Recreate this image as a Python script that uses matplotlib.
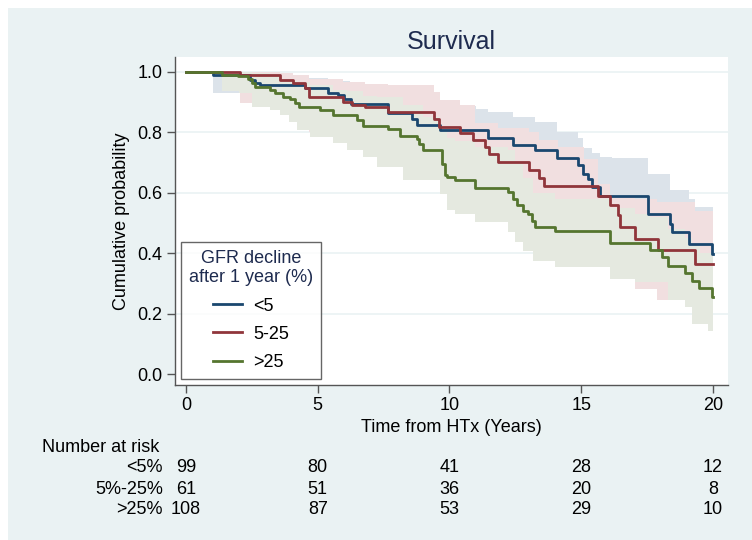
import matplotlib
matplotlib.use("Agg")
import matplotlib.pyplot as plt
from matplotlib.patches import Rectangle
from matplotlib.lines import Line2D
import matplotlib.transforms as mtransforms

plt.rcParams['font.family'] = ['Liberation Sans', 'DejaVu Sans']

# Kaplan-Meier steps (time in years, survival after the step)
blue_t = [0, 1.04, 2.43, 2.62, 2.81, 4.52, 5.40, 5.78, 6.0, 6.25, 7.68, 8.57, 8.75, 9.64,
          11.47, 12.42, 13.25, 14.07, 14.89, 15.08, 15.27, 15.40, 15.71, 17.55, 18.37,
          18.45, 19.10, 19.95]
blue_s = [1.0, 0.99, 0.972, 0.962, 0.956, 0.945, 0.930, 0.922, 0.91, 0.893, 0.862, 0.842,
          0.825, 0.807, 0.782, 0.759, 0.740, 0.713, 0.691, 0.663, 0.646, 0.619, 0.588,
          0.530, 0.497, 0.470, 0.431, 0.398]

red_t = [0, 2.05, 3.57, 4.07, 4.52, 4.65, 5.97, 6.29, 6.79, 7.68, 9.40, 9.62, 10.40, 10.90,
         11.35, 11.50, 11.86, 13.00, 13.38, 13.57, 15.65, 16.09, 16.38, 16.48, 17.04, 17.90,
         19.32]
red_s = [1.0, 0.99, 0.972, 0.961, 0.945, 0.917, 0.900, 0.890, 0.884, 0.865, 0.842, 0.818,
         0.796, 0.774, 0.752, 0.727, 0.700, 0.674, 0.647, 0.621, 0.588, 0.558, 0.525, 0.488,
         0.448, 0.412, 0.366]

green_t = [0, 1.35, 1.99, 2.37, 2.49, 2.62, 3.19, 3.38, 3.70, 3.95, 4.14, 4.27, 5.09, 5.59,
           6.48, 6.73, 7.68, 8.12, 8.75, 8.85, 9.00, 9.70, 9.83, 9.90, 10.2, 10.97, 12.23,
           12.42, 12.55, 12.80, 12.99, 13.12, 13.25, 14.00, 16.09, 17.61, 18.08, 18.30,
           18.94, 19.19, 19.47, 19.95]
green_s = [1.0, 0.99, 0.986, 0.975, 0.961, 0.950, 0.939, 0.928, 0.917, 0.908, 0.895, 0.884,
           0.873, 0.856, 0.840, 0.820, 0.809, 0.787, 0.776, 0.76, 0.740, 0.696, 0.657, 0.652,
           0.643, 0.617, 0.602, 0.580, 0.558, 0.541, 0.528, 0.508, 0.488, 0.472, 0.433,
           0.411, 0.387, 0.359, 0.334, 0.309, 0.284, 0.256]

# confidence bands (step times, lower, upper)
blue_band_t = [0, 1.04, 2.56, 4.52, 5.40, 6.22, 7.68, 8.57, 9.64, 11.0, 11.47, 12.42, 13.25,
               14.07, 14.89, 15.08, 15.40, 15.71, 16.15, 17.55, 18.37, 19.10, 19.30, 19.95]
blue_lo = [1.0, 0.93, 0.90, 0.87, 0.855, 0.81, 0.77, 0.75, 0.71, 0.70, 0.68, 0.65, 0.63,
           0.60, 0.57, 0.55, 0.50, 0.48, 0.48, 0.41, 0.36, 0.31, 0.30, 0.26]
blue_hi = [1.0, 1.0, 0.99, 0.98, 0.97, 0.955, 0.93, 0.915, 0.885, 0.875, 0.865, 0.851,
           0.834, 0.80, 0.78, 0.746, 0.73, 0.718, 0.713, 0.663, 0.61, 0.58, 0.552, 0.552]

red_band_t = [0, 2.05, 3.57, 4.07, 4.65, 5.97, 6.79, 7.68, 9.40, 9.64, 10.40, 10.97, 11.86,
              13.00, 13.38, 14.10, 15.10, 15.65, 16.09, 16.41, 17.04, 17.86, 19.32]
red_lo = [1.0, 0.895, 0.87, 0.85, 0.80, 0.78, 0.76, 0.74, 0.72, 0.69, 0.67, 0.64, 0.58,
          0.55, 0.52, 0.50, 0.48, 0.46, 0.42, 0.38, 0.282, 0.245, 0.20]
red_hi = [1.0, 1.0, 0.995, 0.99, 0.975, 0.965, 0.96, 0.955, 0.934, 0.906, 0.89, 0.83, 0.813,
          0.80, 0.774, 0.75, 0.71, 0.63, 0.59, 0.585, 0.58, 0.57, 0.54]

green_band_t = [0, 1.35, 2.0, 2.49, 3.19, 3.57, 3.9, 4.2, 4.71, 5.59, 6.1, 6.73, 7.24, 8.25,
                9.0, 9.64, 9.89, 10.2, 10.97, 12.23, 12.48, 12.8, 13.18, 14.0, 16.09, 17.04,
                17.61, 18.3, 18.94, 19.19, 19.51, 19.82]
green_lo = [1.0, 0.935, 0.928, 0.884, 0.873, 0.856, 0.834, 0.807, 0.785, 0.763, 0.741, 0.718,
            0.685, 0.641, 0.641, 0.597, 0.544, 0.530, 0.503, 0.470, 0.436, 0.409, 0.373,
            0.356, 0.315, 0.305, 0.305, 0.245, 0.221, 0.167, 0.167, 0.143]
green_hi = [1.0, 1.0, 1.0, 0.995, 0.985, 0.975, 0.97, 0.965, 0.955, 0.94, 0.935, 0.92, 0.915,
            0.89, 0.85, 0.80, 0.78, 0.77, 0.75, 0.74, 0.70, 0.65, 0.60, 0.58, 0.55, 0.53,
            0.52, 0.48, 0.45, 0.43, 0.40, 0.40]

t_end = 20
group_labels = ['<5', '5-25', '>25']
risk_labels = ['<5%', '5%-25%', '>25%']
risk_times = [0, 5, 10, 15, 20]
risk_counts = [[99, 80, 41, 28, 12],
               [61, 51, 36, 20, 8],
               [108, 87, 53, 29, 10]]

line_colors = ['#1a476f', '#90353b', '#55752f']
band_colors = ['#dce3ea', '#f1dfe0', '#e5e9e0']
panel_color = '#eaf2f3'
navy = '#1e2b4f'

fig = plt.figure(figsize=(7.52, 5.40), dpi=100)
fig.patch.set_facecolor('white')
fig.patches.append(Rectangle((8 / 752, 0), 1, 1 - 8 / 540, transform=fig.transFigure,
                             facecolor=panel_color, edgecolor='none', zorder=-10))

ax = fig.add_axes([175 / 752, 1 - 385 / 540, (728 - 175) / 752, (385 - 57) / 540])
ax.set_facecolor('white')
ax.set_xlim(-0.417, 20.57)
ax.set_ylim(-0.035, 1.048)

for yv in [0.2, 0.4, 0.6, 0.8, 1.0]:
    ax.axhline(yv, color=panel_color, lw=1.2, zorder=0)

bands = [(blue_band_t, blue_lo, blue_hi), (red_band_t, red_lo, red_hi),
         (green_band_t, green_lo, green_hi)]
for (bt, lo, hi), c in zip(bands, band_colors):
    ax.fill_between(bt + [t_end], lo + [lo[-1]], hi + [hi[-1]], step='post',
                    facecolor=c, edgecolor='none', zorder=1)

curves = [(blue_t, blue_s), (red_t, red_s), (green_t, green_s)]
for (tt, ss), c in zip(curves, line_colors):
    ax.step(tt + [t_end], ss + [ss[-1]], where='post', color=c, lw=2, zorder=3)

for side in ['top', 'right']:
    ax.spines[side].set_visible(False)
for side in ['left', 'bottom']:
    ax.spines[side].set_color('#555555')
    ax.spines[side].set_linewidth(1)

ax.set_xticks([0, 5, 10, 15, 20])
ax.set_yticks([0.0, 0.2, 0.4, 0.6, 0.8, 1.0])
ax.set_yticklabels(['0.0', '0.2', '0.4', '0.6', '0.8', '1.0'])
ax.tick_params(axis='both', direction='out', length=6, width=1, color='#555555',
               labelsize=13, pad=3)
ax.set_xlabel('Time from HTx (Years)', fontsize=13, labelpad=3)
ax.set_ylabel('Cumulative probability', fontsize=13, labelpad=5)
ax.set_title('Survival', fontsize=18, color=navy, pad=6)

handles = [Line2D([], [], color=c, lw=2) for c in line_colors]
leg = ax.legend(handles, group_labels, title='GFR decline\nafter 1 year (%)',
                loc='lower left', bbox_to_anchor=(0.011, 0.018), borderaxespad=0,
                fontsize=13, title_fontsize=13, frameon=True, fancybox=False,
                handlelength=1.6, handletextpad=0.6, labelspacing=0.62,
                borderpad=0.45, alignment='center')
leg.get_frame().set_edgecolor('#404040')
leg.get_frame().set_linewidth(1)
leg.get_frame().set_facecolor('white')
leg.get_title().set_color(navy)
leg.get_title().set_multialignment('center')
leg.set_zorder(5)

# number at risk table under the axis
trans = mtransforms.blended_transform_factory(ax.transData, fig.transFigure)
fig.text(42 / 752, 1 - 448 / 540, 'Number at risk', fontsize=13, va='center', ha='left')
row_y = [468, 489, 509]
for lab, counts, yp in zip(risk_labels, risk_counts, row_y):
    fig.text(163 / 752, 1 - yp / 540, lab, fontsize=13, va='center', ha='right')
    for tv, n in zip(risk_times, counts):
        ax.text(tv, 1 - yp / 540, str(n), transform=trans, fontsize=13,
                va='center', ha='center', clip_on=False)

fig.savefig('out.png', dpi=100, facecolor=fig.get_facecolor())
